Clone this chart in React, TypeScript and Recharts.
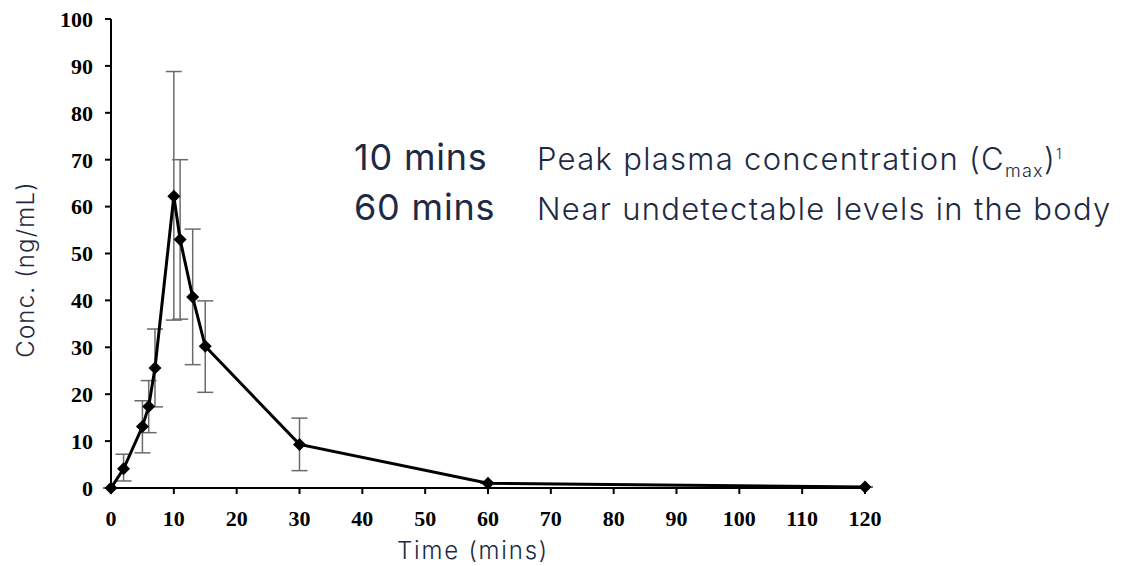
import React from "react";
import {
  LineChart,
  Line,
  XAxis,
  YAxis,
  ErrorBar,
  Label,
} from "recharts";

// Sampling times (mins) and mean concentrations (ng/mL)
const times = [0, 2, 5, 6, 7, 10, 11, 13, 15, 30, 60, 120];
const conc = [0, 4.1, 13.1, 17.4, 25.6, 62.2, 53.0, 40.7, 30.2, 9.3, 1.0, 0.2];
// Error bar bounds
const upper = [0, 7.2, 18.6, 22.9, 33.9, 88.8, 70.0, 55.2, 39.9, 14.9, 1.0, 0.2];
const lower = [0, 1.5, 7.5, 11.8, 17.3, 35.8, 36.0, 26.3, 20.4, 3.7, 1.0, 0.2];

const xTicks = [0, 10, 20, 30, 40, 50, 60, 70, 80, 90, 100, 110, 120];
const yTicks = [0, 10, 20, 30, 40, 50, 60, 70, 80, 90, 100];

const data = times.map((t, i) => ({
  time: t,
  conc: conc[i],
  err: [conc[i] - lower[i], upper[i] - conc[i]],
}));

const navy = "#1d2a44";
const serif = "'Liberation Serif', 'Times New Roman', serif";

const Diamond = (props: any) => {
  const { cx, cy, index } = props;
  if (cx == null || cy == null) return null;
  const r = 6.5;
  return (
    <path
      key={`d-${index}`}
      d={`M${cx},${cy - r} L${cx + r},${cy} L${cx},${cy + r} L${cx - r},${cy} Z`}
      fill="#000"
    />
  );
};

const tickStyle = {
  fill: "#000",
  fontSize: 22,
  fontWeight: 700,
  fontFamily: serif,
};

const titleStyle = {
  fill: navy,
  fontSize: 24,
  fontFamily: "Inter",
  fontWeight: 300,
  letterSpacing: 1.2,
};

export default function App() {
  return (
    <div
      style={{
        position: "absolute",
        left: 0,
        top: 0,
        width: 1122,
        height: 566,
        background: "#fff",
        fontFamily: "Inter, sans-serif",
      }}
    >
      <LineChart
        width={1122}
        height={566}
        data={data}
        margin={{ top: 19, right: 257, left: 0, bottom: 0 }}
      >
        <XAxis
          dataKey="time"
          type="number"
          domain={[0, 120]}
          ticks={xTicks}
          height={78}
          axisLine={{ stroke: "#000", strokeWidth: 2 }}
          tickLine={{ stroke: "#000", strokeWidth: 2 }}
          tickSize={6}
          tickMargin={16}
          tick={tickStyle}
        >
          <Label
            content={({ viewBox }: any) => (
              <text
                x={viewBox.x + viewBox.width / 2 - 15}
                y={viewBox.y + 71}
                textAnchor="middle"
                style={{ ...titleStyle, letterSpacing: 1.8 }}
              >
                Time (mins)
              </text>
            )}
          />
        </XAxis>
        <YAxis
          type="number"
          domain={[0, 100]}
          ticks={yTicks}
          width={111}
          axisLine={{ stroke: "#000", strokeWidth: 2 }}
          tickLine={{ stroke: "#000", strokeWidth: 2 }}
          tickSize={6}
          tickMargin={12}
          tick={tickStyle}
        >
          <Label
            content={({ viewBox }: any) => {
              const x = viewBox.x + 34;
              const y = viewBox.y + viewBox.height / 2 + 16;
              return (
                <text
                  x={x}
                  y={y}
                  transform={`rotate(-90, ${x}, ${y})`}
                  textAnchor="middle"
                  style={titleStyle}
                >
                  Conc. (ng/mL)
                </text>
              );
            }}
          />
        </YAxis>
        <Line
          dataKey="conc"
          stroke="#000"
          strokeWidth={3}
          dot={Diamond}
          activeDot={false}
          isAnimationActive={false}
        >
          <ErrorBar
            dataKey="err"
            direction="y"
            width={8}
            stroke="#6b6b6b"
            strokeWidth={1.5}
          />
        </Line>
      </LineChart>

      <div style={{ position: "absolute", left: 354, top: 135, color: navy }}>
        <div style={{ display: "flex", alignItems: "baseline", height: 50 }}>
          <span style={{ fontSize: 36, width: 183, fontWeight: 400, letterSpacing: 0.8 }}>
            10 mins
          </span>
          <span style={{ fontSize: 31, fontWeight: 300, letterSpacing: 1.3 }}>
            Peak plasma concentration (C
            <sub style={{ fontSize: 18 }}>max</sub>)
            <sup style={{ fontSize: 14 }}>1</sup>
          </span>
        </div>
        <div style={{ display: "flex", alignItems: "baseline", height: 50 }}>
          <span style={{ fontSize: 36, width: 183, fontWeight: 400, letterSpacing: 0.8 }}>
            60 mins
          </span>
          <span style={{ fontSize: 31, fontWeight: 300, letterSpacing: 1.3 }}>
            Near undetectable levels in the body
          </span>
        </div>
      </div>
    </div>
  );
}
